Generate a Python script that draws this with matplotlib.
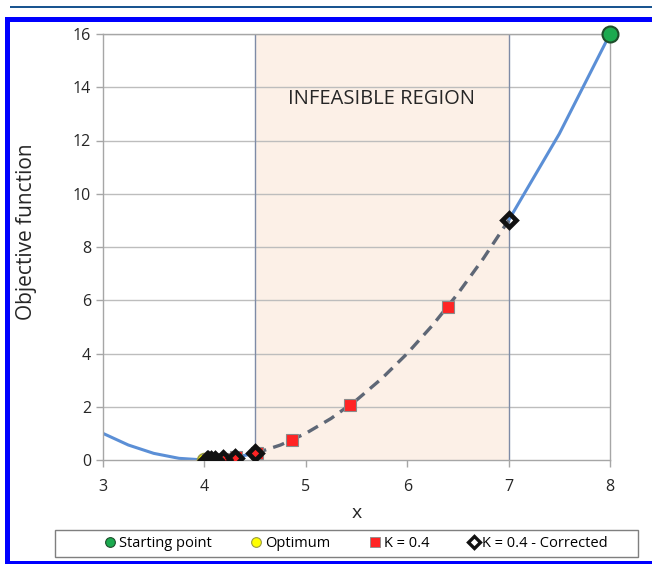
import matplotlib
matplotlib.use("Agg")
import matplotlib.pyplot as plt
from matplotlib.lines import Line2D
from matplotlib.patches import Rectangle

plt.rcParams['font.family'] = ['Open Sans', 'DejaVu Sans']

# Objective curve samples (feasible parts solid, infeasible part dashed)
curve_left_x = [3.0, 3.25, 3.5, 3.75, 4.0, 4.25, 4.5]
curve_left_y = [1.0, 0.5625, 0.25, 0.0625, 0.0, 0.0625, 0.25]
curve_mid_x = [4.5, 4.75, 5.0, 5.25, 5.5, 5.75, 6.0, 6.25, 6.5, 6.75, 7.0]
curve_mid_y = [0.25, 0.5625, 1.0, 1.5625, 2.25, 3.0625, 4.0, 5.0625, 6.25, 7.5625, 9.0]
curve_right_x = [7.0, 7.5, 8.0]
curve_right_y = [9.0, 12.25, 16.0]

# Iterates
start_x, start_y = [8.0], [16.0]
opt_x, opt_y = [4.0], [0.0]
k04_x = [6.4, 5.44, 4.864, 4.518, 4.311, 4.187, 4.112, 4.067, 4.040]
k04_y = [5.76, 2.07, 0.75, 0.27, 0.097, 0.035, 0.0125, 0.0045, 0.0016]
corr_x = [7.0, 4.5, 4.3, 4.18, 4.108, 4.065, 4.039, 4.023]
corr_y = [9.0, 0.25, 0.09, 0.032, 0.012, 0.0042, 0.0015, 0.0005]

infeasible_lo, infeasible_hi = 4.5, 7.0
x_ticks = [3, 4, 5, 6, 7, 8]
y_ticks = [0, 2, 4, 6, 8, 10, 12, 14, 16]

W, H = 652, 564
fig = plt.figure(figsize=(W / 100, H / 100), dpi=100)

# page decorations
fig.add_artist(Rectangle((10 / W, 1 - 7.5 / H), (W - 10) / W, 2 / H,
                         transform=fig.transFigure, color='#1A5590', lw=0))
fig.add_artist(Rectangle((5 / W, 1 - 21.5 / H), (W - 5) / W, 4.5 / H,
                         transform=fig.transFigure, color='#0000FF', lw=0))
fig.add_artist(Rectangle((5 / W, 0), 5 / W, (H - 17) / H,
                         transform=fig.transFigure, color='#0000FF', lw=0))
fig.add_artist(Rectangle((5 / W, 0), (W - 5) / W, 3 / H,
                         transform=fig.transFigure, color='#0000FF', lw=0))

ax = fig.add_axes([103 / W, (H - 460) / H, 507 / W, 426 / H])
ax.set_xlim(3, 8)
ax.set_ylim(0, 16)

ax.axvspan(infeasible_lo, infeasible_hi, color='#FCF0E7', lw=0, zorder=0)
for y in y_ticks[1:]:
    ax.axhline(y, color='#BDBDBD', lw=1.0, zorder=1)
for xv in (infeasible_lo, infeasible_hi):
    ax.axvline(xv, color='#7E8BA6', lw=1.0, zorder=1)

blue = '#5B8FD6'
ax.plot(curve_left_x, curve_left_y, color=blue, lw=2.2, zorder=2)
ax.plot(curve_right_x, curve_right_y, color=blue, lw=2.2, zorder=2)
ax.plot(curve_mid_x, curve_mid_y, color='#5E6776', lw=2.4, ls=(0, (3.5, 2.2)), zorder=2)

ax.plot(k04_x, k04_y, ls='none', marker='s', ms=8.5, mfc='#FF2424',
        mec='#8A8A8A', mew=0.8, zorder=4)
ax.plot(corr_x, corr_y, ls='none', marker='D', ms=7, mfc='none',
        mec='#111111', mew=3.4, zorder=5)
ax.plot(opt_x, opt_y, ls='none', marker='o', ms=10, mfc='#FFFF00',
        mec='#9A9A40', mew=1.2, zorder=3)
ax.plot(start_x, start_y, ls='none', marker='o', ms=11.5, mfc='#1BAA4F',
        mec='#1E4D2B', mew=1.5, zorder=6, clip_on=False)

ax.text((infeasible_lo + infeasible_hi) / 2, 13.55, 'INFEASIBLE REGION',
        ha='center', va='center', fontsize=14.5, color='#262626')

for s in ax.spines.values():
    s.set_color('#A6A6A6')
    s.set_linewidth(1.0)
ax.set_xticks(x_ticks)
ax.set_yticks(y_ticks)
ax.tick_params(axis='both', colors='#A6A6A6', labelcolor='#262626',
               labelsize=11.5, length=5, width=1)
ax.tick_params(axis='x', pad=9)
ax.set_xlabel('x', fontsize=14, color='#262626', labelpad=6)
ax.set_ylabel('Objective function', fontsize=15, color='#262626')
ax.yaxis.set_label_coords(-0.13, 0.535)

# legend frame plus entries
fig.add_artist(Rectangle((55 / W, (H - 557) / H), 583 / W, 27 / H,
                         transform=fig.transFigure, facecolor='white',
                         edgecolor='#7F7F7F', lw=1.0))
handles = [
    Line2D([], [], ls='none', marker='o', ms=7, mfc='#1BAA4F', mec='#1E4D2B', mew=0.8),
    Line2D([], [], ls='none', marker='o', ms=7, mfc='#FFFF00', mec='#9A9A40', mew=0.8),
    Line2D([], [], ls='none', marker='s', ms=7, mfc='#FF2424', mec='#8A8A8A', mew=0.6),
    Line2D([], [], ls='none', marker='D', ms=6, mfc='none', mec='#111111', mew=2.4),
]
labels = ['Starting point', 'Optimum', 'K = 0.4', 'K = 0.4 - Corrected']
leg = fig.legend(handles, labels, loc='center', ncol=4,
                 bbox_to_anchor=(356 / W, (H - 543.5) / H), fontsize=10.5,
                 frameon=False, handletextpad=0.15, handlelength=0.9,
                 columnspacing=2.6, borderpad=0.2)

fig.savefig('out.png', dpi=100, facecolor='white')
